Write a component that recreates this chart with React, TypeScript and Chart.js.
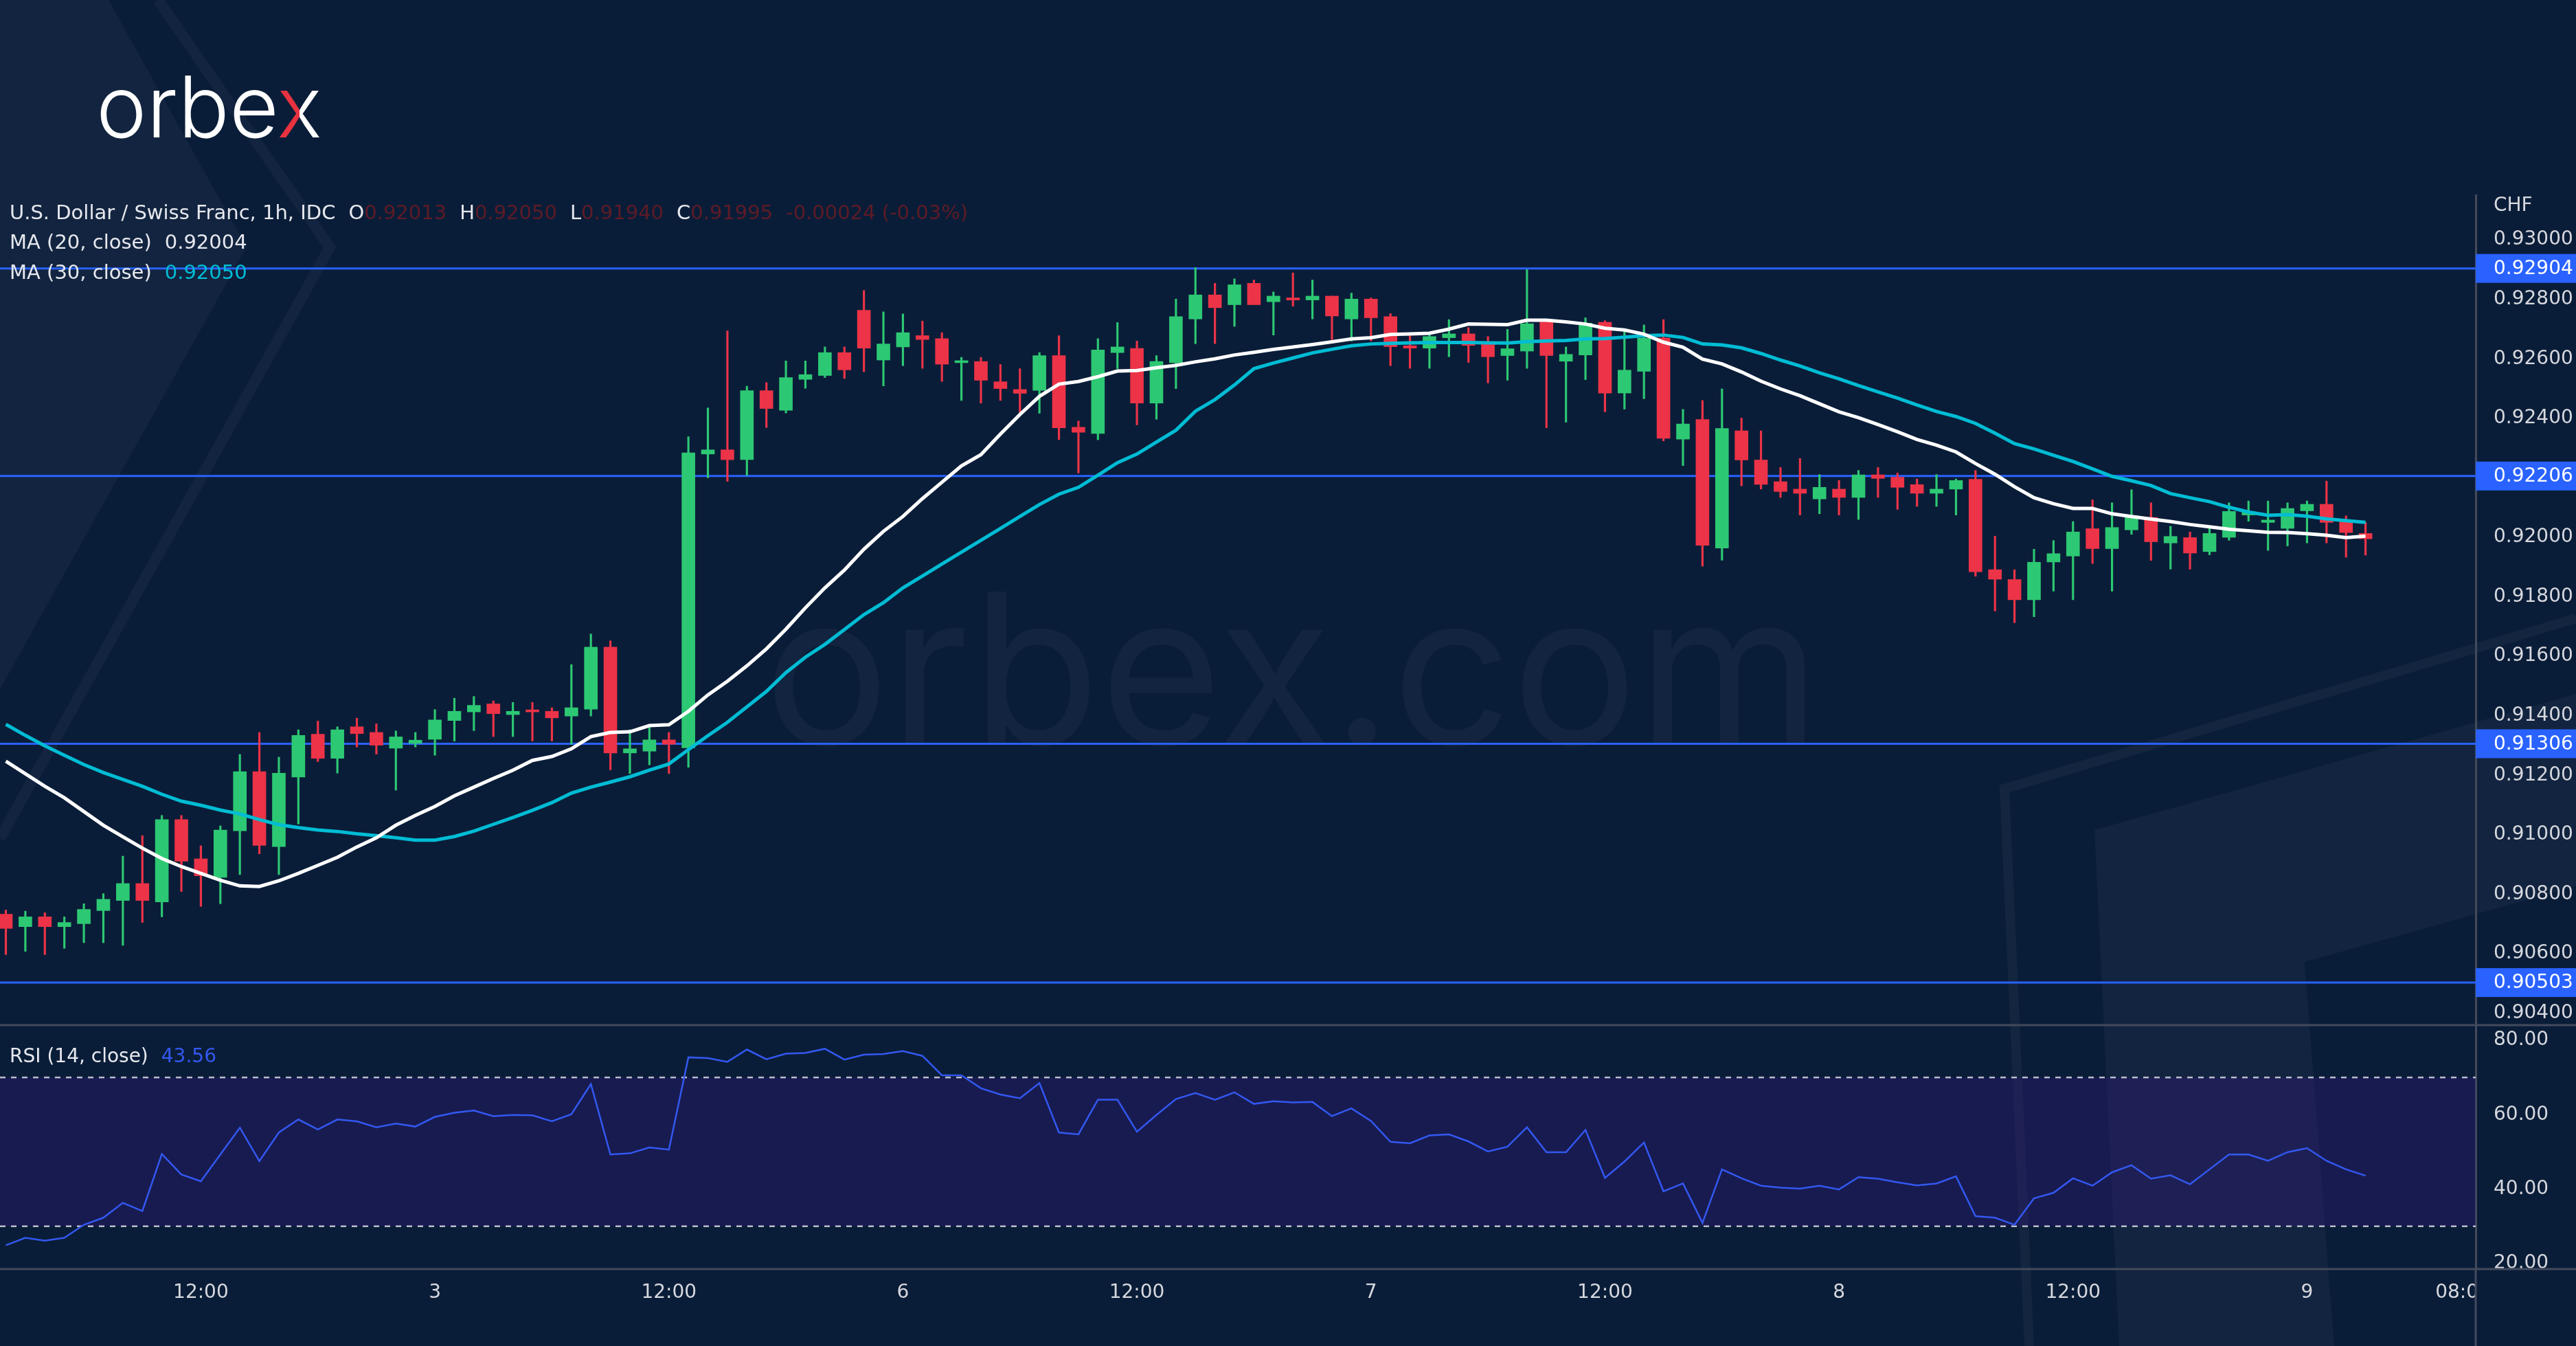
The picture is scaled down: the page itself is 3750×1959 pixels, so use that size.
import React, { useEffect, useRef } from 'react';
import { Chart, registerables } from 'chart.js';

Chart.register(...registerables);

// ---------------- data (USD/CHF 1h) ----------------
const opens = [
  0.90733, 0.90691, 0.90724, 0.90691, 0.90701, 0.90745, 0.90779, 0.90836, 0.90774, 0.91051,
  0.90919, 0.90857, 0.91013, 0.91212, 0.90960, 0.91194, 0.91338, 0.91257, 0.91363, 0.91344,
  0.91291, 0.91307, 0.91321, 0.91384, 0.91413, 0.91440, 0.91404, 0.91415, 0.91415, 0.91399,
  0.91422, 0.91631, 0.91275, 0.91281, 0.91319, 0.91292, 0.92280, 0.92294, 0.92261, 0.92493,
  0.92427, 0.92531, 0.92544, 0.92621, 0.92763, 0.92596, 0.92640, 0.92678, 0.92668, 0.92587,
  0.92591, 0.92523, 0.92497, 0.92494, 0.92611, 0.92370, 0.92349, 0.92621, 0.92635, 0.92451,
  0.92587, 0.92734, 0.92815, 0.92782, 0.92854, 0.92792, 0.92805, 0.92798, 0.92811, 0.92734,
  0.92801, 0.92742, 0.92644, 0.92636, 0.92671, 0.92684, 0.92655, 0.92611, 0.92626, 0.92727,
  0.92592, 0.92613, 0.92723, 0.92485, 0.92558, 0.92670, 0.92330, 0.92396, 0.91964, 0.92358,
  0.92260, 0.92187, 0.92162, 0.92129, 0.92162, 0.92134, 0.92210, 0.92202, 0.92177, 0.92148,
  0.92162, 0.92195, 0.91891, 0.91858, 0.91790, 0.91917, 0.91937, 0.92029, 0.91962, 0.92025,
  0.92067, 0.91981, 0.91999, 0.91952, 0.92000, 0.92075, 0.92050, 0.92030, 0.92089, 0.92111,
  0.92053, 0.92013,
];
const highs = [
  0.90747, 0.90743, 0.90738, 0.90724, 0.90768, 0.90802, 0.90928, 0.90997, 0.91065, 0.91065,
  0.90963, 0.91030, 0.91270, 0.91344, 0.91261, 0.91353, 0.91382, 0.91363, 0.91392, 0.91373,
  0.91349, 0.91344, 0.91421, 0.91459, 0.91465, 0.91450, 0.91445, 0.91445, 0.91427, 0.91572,
  0.91675, 0.91652, 0.91353, 0.91361, 0.91344, 0.92338, 0.92435, 0.92694, 0.92508, 0.92520,
  0.92593, 0.92593, 0.92640, 0.92640, 0.92830, 0.92758, 0.92751, 0.92727, 0.92688, 0.92605,
  0.92605, 0.92581, 0.92567, 0.92621, 0.92678, 0.92391, 0.92668, 0.92722, 0.92660, 0.92611,
  0.92801, 0.92907, 0.92854, 0.92869, 0.92865, 0.92825, 0.92889, 0.92865, 0.92811, 0.92821,
  0.92805, 0.92752, 0.92678, 0.92688, 0.92732, 0.92705, 0.92675, 0.92699, 0.92900, 0.92727,
  0.92640, 0.92738, 0.92728, 0.92693, 0.92714, 0.92732, 0.92430, 0.92460, 0.92499, 0.92401,
  0.92358, 0.92235, 0.92265, 0.92211, 0.92191, 0.92225, 0.92235, 0.92216, 0.92196, 0.92211,
  0.92196, 0.92225, 0.92004, 0.91891, 0.91960, 0.91989, 0.92053, 0.92126, 0.92116, 0.92160,
  0.92116, 0.92037, 0.92018, 0.92037, 0.92116, 0.92122, 0.92122, 0.92116, 0.92122, 0.92189,
  0.92072, 0.92050,
];
const lows = [
  0.90597, 0.90608, 0.90597, 0.90618, 0.90637, 0.90637, 0.90628, 0.90705, 0.90724, 0.90809,
  0.90759, 0.90768, 0.90866, 0.90936, 0.90866, 0.91036, 0.91246, 0.91207, 0.91295, 0.91271,
  0.91150, 0.91295, 0.91267, 0.91315, 0.91350, 0.91330, 0.91330, 0.91315, 0.91315, 0.91304,
  0.91399, 0.91218, 0.91206, 0.91235, 0.91206, 0.91227, 0.92200, 0.92188, 0.92208, 0.92369,
  0.92418, 0.92501, 0.92537, 0.92534, 0.92557, 0.92509, 0.92577, 0.92568, 0.92524, 0.92460,
  0.92451, 0.92460, 0.92417, 0.92417, 0.92328, 0.92216, 0.92328, 0.92567, 0.92378, 0.92397,
  0.92500, 0.92651, 0.92651, 0.92709, 0.92782, 0.92680, 0.92777, 0.92734, 0.92665, 0.92660,
  0.92660, 0.92577, 0.92568, 0.92568, 0.92607, 0.92588, 0.92519, 0.92528, 0.92568, 0.92368,
  0.92387, 0.92530, 0.92422, 0.92431, 0.92466, 0.92324, 0.92241, 0.91903, 0.91923, 0.92173,
  0.92162, 0.92134, 0.92075, 0.92079, 0.92075, 0.92060, 0.92134, 0.92094, 0.92104, 0.92104,
  0.92075, 0.91869, 0.91752, 0.91713, 0.91733, 0.91819, 0.91790, 0.91912, 0.91819, 0.92010,
  0.91922, 0.91893, 0.91893, 0.91941, 0.91990, 0.92054, 0.91956, 0.91971, 0.91981, 0.91981,
  0.91933, 0.91940,
];
const closes = [
  0.90685, 0.90724, 0.90691, 0.90705, 0.90749, 0.90783, 0.90836, 0.90779, 0.91051, 0.90911,
  0.90862, 0.91016, 0.91212, 0.90964, 0.91207, 0.91334, 0.91257, 0.91353, 0.91340, 0.91301,
  0.91329, 0.91318, 0.91386, 0.91415, 0.91435, 0.91407, 0.91415, 0.91413, 0.91393, 0.91427,
  0.91631, 0.91275, 0.91289, 0.91319, 0.91304, 0.92284, 0.92294, 0.92261, 0.92493, 0.92433,
  0.92537, 0.92547, 0.92621, 0.92563, 0.92636, 0.92650, 0.92688, 0.92665, 0.92582, 0.92592,
  0.92528, 0.92500, 0.92484, 0.92611, 0.92368, 0.92353, 0.92630, 0.92640, 0.92451, 0.92591,
  0.92742, 0.92815, 0.92772, 0.92849, 0.92782, 0.92811, 0.92798, 0.92811, 0.92744, 0.92801,
  0.92738, 0.92641, 0.92636, 0.92675, 0.92684, 0.92645, 0.92607, 0.92634, 0.92718, 0.92611,
  0.92615, 0.92720, 0.92485, 0.92562, 0.92670, 0.92333, 0.92381, 0.91973, 0.92366, 0.92260,
  0.92178, 0.92154, 0.92148, 0.92168, 0.92134, 0.92210, 0.92198, 0.92168, 0.92148, 0.92162,
  0.92191, 0.91884, 0.91859, 0.91790, 0.91916, 0.91945, 0.92018, 0.91962, 0.92033, 0.92072,
  0.91985, 0.92003, 0.91947, 0.92013, 0.92087, 0.92087, 0.92058, 0.92097, 0.92111, 0.92050,
  0.92016, 0.91995,
];
const ma20 = [
  0.91247, 0.91205, 0.91163, 0.91124, 0.91078, 0.91032, 0.90993, 0.90955, 0.90920, 0.90893,
  0.90870, 0.90847, 0.90828, 0.90826, 0.90845, 0.90870, 0.90897, 0.90924, 0.90959, 0.90990,
  0.91032, 0.91065, 0.91095, 0.91131, 0.91160, 0.91189, 0.91217, 0.91250, 0.91263, 0.91289,
  0.91330, 0.91344, 0.91346, 0.91367, 0.91370, 0.91415, 0.91470, 0.91516, 0.91568, 0.91625,
  0.91691, 0.91763, 0.91830, 0.91890, 0.91960, 0.92020, 0.92070, 0.92130, 0.92185, 0.92240,
  0.92278, 0.92347, 0.92413, 0.92474, 0.92515, 0.92524, 0.92540, 0.92559, 0.92561, 0.92570,
  0.92578, 0.92590, 0.92600, 0.92613, 0.92622, 0.92632, 0.92640, 0.92648, 0.92657, 0.92667,
  0.92671, 0.92682, 0.92684, 0.92686, 0.92700, 0.92717, 0.92716, 0.92715, 0.92730, 0.92730,
  0.92724, 0.92717, 0.92703, 0.92697, 0.92683, 0.92656, 0.92639, 0.92599, 0.92583, 0.92556,
  0.92525, 0.92499, 0.92476, 0.92449, 0.92422, 0.92402, 0.92379, 0.92355, 0.92329, 0.92310,
  0.92287, 0.92248, 0.92212, 0.92170, 0.92133, 0.92113, 0.92097, 0.92097, 0.92079, 0.92070,
  0.92061, 0.92053, 0.92043, 0.92035, 0.92027, 0.92022, 0.92017, 0.92016, 0.92012, 0.92007,
  0.91999, 0.92004,
];
const ma30 = [
  0.91371, 0.91334, 0.91299, 0.91267, 0.91236, 0.91209, 0.91186, 0.91163, 0.91136, 0.91113,
  0.91099, 0.91083, 0.91070, 0.91051, 0.91034, 0.91024, 0.91016, 0.91011, 0.91003, 0.90997,
  0.90990, 0.90982, 0.90982, 0.90994, 0.91012, 0.91035, 0.91058, 0.91082, 0.91108, 0.91140,
  0.91160, 0.91177, 0.91195, 0.91217, 0.91238, 0.91286, 0.91333, 0.91378, 0.91430, 0.91482,
  0.91545, 0.91597, 0.91640, 0.91690, 0.91740, 0.91780, 0.91830, 0.91870, 0.91910, 0.91950,
  0.91990, 0.92030, 0.92070, 0.92110, 0.92145, 0.92168, 0.92209, 0.92251, 0.92280, 0.92320,
  0.92360, 0.92424, 0.92463, 0.92512, 0.92567, 0.92586, 0.92603, 0.92620, 0.92632, 0.92644,
  0.92650, 0.92652, 0.92654, 0.92655, 0.92655, 0.92655, 0.92654, 0.92653, 0.92658, 0.92660,
  0.92662, 0.92667, 0.92668, 0.92673, 0.92678, 0.92680, 0.92672, 0.92650, 0.92647, 0.92637,
  0.92618, 0.92596, 0.92576, 0.92553, 0.92533, 0.92510, 0.92489, 0.92468, 0.92445, 0.92423,
  0.92406, 0.92383, 0.92350, 0.92315, 0.92297, 0.92276, 0.92255, 0.92230, 0.92205, 0.92190,
  0.92174, 0.92147, 0.92133, 0.92120, 0.92101, 0.92085, 0.92074, 0.92076, 0.92071, 0.92062,
  0.92056, 0.92050,
];
const rsi14 = [
  24.9, 26.9, 26.1, 26.9, 30.4, 32.3, 36.3, 34.1, 49.4, 43.9,
  42.1, 49.3, 56.5, 47.5, 55.2, 58.7, 56.0, 58.7, 58.2, 56.6,
  57.6, 56.8, 59.4, 60.5, 61.1, 59.6, 59.9, 59.8, 58.2, 60.1,
  68.2, 49.3, 49.6, 51.2, 50.6, 75.4, 75.2, 74.2, 77.5, 74.9,
  76.4, 76.6, 77.7, 74.8, 76.1, 76.3, 77.1, 75.8, 70.6, 70.6,
  67.1, 65.4, 64.4, 68.5, 55.2, 54.7, 64.0, 64.0, 55.4, 59.9,
  64.2, 65.8, 64.0, 66.0, 62.9, 63.6, 63.3, 63.4, 59.6, 61.7,
  58.3, 52.7, 52.3, 54.4, 54.7, 52.8, 50.1, 51.4, 56.6, 49.9,
  49.9, 55.9, 43.0, 47.4, 52.5, 39.4, 41.5, 30.9, 45.3, 42.9,
  40.9, 40.4, 40.1, 40.9, 39.9, 43.2, 42.8, 41.8, 41.0, 41.5,
  43.4, 32.7, 32.3, 30.4, 37.5, 39.0, 42.9, 40.9, 44.5, 46.4,
  42.8, 43.7, 41.3, 45.3, 49.3, 49.3, 47.6, 49.9, 51.0, 47.6,
  45.3, 43.6,
];
const levels = [0.92904, 0.92206, 0.91306, 0.90503];
const priceTicks = [0.904, 0.906, 0.908, 0.91, 0.912, 0.914, 0.916, 0.918, 0.92, 0.922, 0.924, 0.926, 0.928, 0.93];
const rsiTicks = [20, 40, 60, 80];
const rsiBands = [70, 30];
const xTickIdx = [10, 22, 34, 46, 58, 70, 82, 94, 106, 118, 126];
const xTickLabels = ['12:00', '3', '12:00', '6', '12:00', '7', '12:00', '8', '12:00', '9', '08:00'];

// ---------------- style ----------------
const W = 3750;
const H = 1959;
const AXIS_W = 146;
const BG = '#0a1d38';
const GREEN = '#2dc873';
const RED = '#ec3347';
const LEVEL = '#2962ff';
const SEP = '#434a5c';
const TICK = '#d6d8de';
const RSI_BLUE = '#3358f0';
const FONT = "'DejaVu Sans', 'Verdana', sans-serif";
const X_MIN = -0.3;
const X_MAX = 126.65;
const P_MIN = 0.903599;
const P_MAX = 0.931504;
const R_MIN = 18.5;
const R_MAX = 84.06;

const mainDeco = {
  id: 'mainDeco',
  beforeDatasetsDraw(chart: any) {
    const { ctx, chartArea, scales } = chart;
    const { left, right, top, bottom } = chartArea;
    ctx.save();
    ctx.beginPath();
    ctx.rect(left, top, right - left, bottom - top);
    ctx.clip();
    ctx.font = "305px Inter, 'Noto Sans', sans-serif";
    ctx.fillStyle = 'rgba(255,255,255,0.035)';
    ctx.textBaseline = 'alphabetic';
    ctx.textAlign = 'left';
    ctx.fillText('orbex.com', 1112, 1083);
    ctx.strokeStyle = LEVEL;
    ctx.lineWidth = 3;
    levels.forEach((v) => {
      const py = scales.y.getPixelForValue(v);
      ctx.beginPath();
      ctx.moveTo(left, py);
      ctx.lineTo(right, py);
      ctx.stroke();
    });
    ctx.restore();
  },
  afterDraw(chart: any) {
    const { ctx, chartArea, scales } = chart;
    const { right, top } = chartArea;
    ctx.save();
    ctx.font = '28px ' + FONT;
    ctx.textBaseline = 'middle';
    ctx.textAlign = 'left';
    levels.forEach((v) => {
      const py = scales.y.getPixelForValue(v);
      ctx.fillStyle = LEVEL;
      ctx.fillRect(right, py - 21, W - right, 42);
      ctx.fillStyle = '#ffffff';
      ctx.fillText(v.toFixed(5), right + 26, py + 1);
    });
    ctx.fillStyle = TICK;
    ctx.fillText('CHF', right + 26, top + 16);
    ctx.restore();
  },
};

const rsiDeco = {
  id: 'rsiDeco',
  beforeDatasetsDraw(chart: any) {
    const { ctx, chartArea, scales } = chart;
    const { left, right } = chartArea;
    const y70 = scales.y.getPixelForValue(rsiBands[0]);
    const y30 = scales.y.getPixelForValue(rsiBands[1]);
    ctx.save();
    ctx.fillStyle = 'rgba(66,25,150,0.26)';
    ctx.fillRect(left, y70, right - left, y30 - y70);
    ctx.strokeStyle = 'rgba(205,205,222,0.9)';
    ctx.lineWidth = 2.5;
    ctx.setLineDash([8, 8]);
    [y70, y30].forEach((py) => {
      ctx.beginPath();
      ctx.moveTo(left, py);
      ctx.lineTo(right, py);
      ctx.stroke();
    });
    ctx.restore();
  },
  afterDraw(chart: any) {
    const { ctx, chartArea } = chart;
    const { right, top, bottom } = chartArea;
    const h = chart.height;
    ctx.save();
    ctx.fillStyle = BG;
    ctx.fillRect(right + 1, bottom + 1, W - right, h - bottom);
    ctx.strokeStyle = SEP;
    ctx.lineWidth = 3;
    ctx.beginPath();
    ctx.moveTo(0, top);
    ctx.lineTo(W, top);
    ctx.moveTo(0, bottom);
    ctx.lineTo(W, bottom);
    ctx.moveTo(right, bottom);
    ctx.lineTo(right, h);
    ctx.stroke();
    ctx.restore();
  },
};

function mainConfig(): any {
  const colors = closes.map((c, i) => (c >= opens[i] ? GREEN : RED));
  return {
    type: 'bar',
    data: {
      datasets: [
        {
          type: 'line',
          data: ma20.map((v, i) => ({ x: i, y: v })),
          borderColor: '#ffffff',
          borderWidth: 5,
          pointRadius: 0,
          order: 0,
        },
        {
          type: 'line',
          data: ma30.map((v, i) => ({ x: i, y: v })),
          borderColor: '#00bcd4',
          borderWidth: 5,
          pointRadius: 0,
          order: 1,
        },
        {
          type: 'bar',
          data: opens.map((o, i) => ({ x: i, y: [o, closes[i]] })),
          backgroundColor: colors,
          barThickness: 19,
          minBarLength: 3,
          grouped: false,
          order: 2,
        },
        {
          type: 'bar',
          data: lows.map((l, i) => ({ x: i, y: [l, highs[i]] })),
          backgroundColor: colors,
          barThickness: 2.5,
          grouped: false,
          order: 3,
        },
      ],
    },
    options: {
      responsive: false,
      animation: false,
      devicePixelRatio: 1,
      events: [],
      layout: { padding: { top: 284, bottom: 50, left: 0, right: 0 } },
      plugins: { legend: { display: false }, tooltip: { enabled: false } },
      scales: {
        x: { type: 'linear', min: X_MIN, max: X_MAX, display: false, offset: false },
        y: {
          position: 'right',
          min: P_MIN,
          max: P_MAX,
          afterFit: (s: any) => {
            s.width = AXIS_W;
          },
          afterBuildTicks: (s: any) => {
            s.ticks = priceTicks.map((v) => ({ value: v }));
          },
          ticks: {
            padding: 26,
            color: TICK,
            font: { size: 28, family: FONT },
            callback: (v: any) => Number(v).toFixed(5),
          },
          grid: { display: false, drawTicks: false },
          border: { display: true, color: SEP, width: 3 },
        },
      },
    },
    plugins: [mainDeco],
  };
}

function rsiConfig(): any {
  return {
    type: 'line',
    data: {
      datasets: [
        {
          data: rsi14.map((v, i) => ({ x: i, y: v })),
          borderColor: RSI_BLUE,
          borderWidth: 2.5,
          pointRadius: 0,
        },
      ],
    },
    options: {
      responsive: false,
      animation: false,
      devicePixelRatio: 1,
      events: [],
      layout: { padding: { top: 60, bottom: 0, left: 0, right: 0 } },
      plugins: { legend: { display: false }, tooltip: { enabled: false } },
      scales: {
        x: {
          type: 'linear',
          min: X_MIN,
          max: X_MAX,
          position: 'bottom',
          afterBuildTicks: (s: any) => {
            s.ticks = xTickIdx.map((v) => ({ value: v }));
          },
          afterFit: (s: any) => {
            s.height = 112;
          },
          ticks: {
            autoSkip: false,
            maxRotation: 0,
            minRotation: 0,
            padding: 18,
            color: TICK,
            font: { size: 28, family: FONT },
            callback: (_v: any, i: number) => xTickLabels[i],
          },
          grid: { display: false, drawTicks: false },
          border: { display: false },
        },
        y: {
          position: 'right',
          min: R_MIN,
          max: R_MAX,
          afterFit: (s: any) => {
            s.width = AXIS_W;
          },
          afterBuildTicks: (s: any) => {
            s.ticks = rsiTicks.map((v) => ({ value: v }));
          },
          ticks: {
            padding: 26,
            color: TICK,
            font: { size: 28, family: FONT },
            callback: (v: any) => Number(v).toFixed(2),
          },
          grid: { display: false, drawTicks: false },
          border: { display: true, color: SEP, width: 3 },
        },
      },
    },
    plugins: [rsiDeco],
  };
}

const legendVal = '#5e1b26';

export default function App() {
  const mainRef = useRef<HTMLCanvasElement>(null);
  const rsiRef = useRef<HTMLCanvasElement>(null);

  useEffect(() => {
    const m = new Chart(mainRef.current as HTMLCanvasElement, mainConfig());
    const r = new Chart(rsiRef.current as HTMLCanvasElement, rsiConfig());
    return () => {
      m.destroy();
      r.destroy();
    };
  }, []);

  const lineStyle: React.CSSProperties = {
    position: 'absolute',
    left: 14,
    fontFamily: FONT,
    fontSize: 29,
    lineHeight: '40px',
    whiteSpace: 'pre',
    color: '#e6e8ee',
  };
  const gap: React.CSSProperties = { marginLeft: 19 };

  return (
    <div
      style={{
        position: 'absolute',
        left: 0,
        top: 0,
        width: W,
        height: H,
        background: BG,
        overflow: 'hidden',
      }}
    >
      <svg width={W} height={H} style={{ position: 'absolute', left: 0, top: 0 }}>
        <polygon points="0,0 158,0 359,360 0,1003" fill="rgba(255,255,255,0.035)" />
        <polyline points="230,0 480,360 0,1220" fill="none" stroke="rgba(255,255,255,0.035)" strokeWidth={16} />
        <polygon
          points="3049,1208 3750,1010 3750,1290 3355,1400 3398,1959 3085,1959"
          fill="rgba(255,255,255,0.035)"
        />
        <polyline points="2954,1959 2918,1148 3750,900" fill="none" stroke="rgba(255,255,255,0.04)" strokeWidth={14} />
      </svg>

      <div
        style={{
          position: 'absolute',
          left: 140,
          top: 93,
          fontFamily: "Inter, 'Noto Sans', sans-serif",
          fontSize: 124,
          lineHeight: '124px',
          color: '#ffffff',
          fontWeight: 300,
        }}
      >
        orbe
        <span
          style={{
            background: 'linear-gradient(90deg, #e8323f 0%, #e8323f 50%, #ffffff 50%, #ffffff 100%)',
            WebkitBackgroundClip: 'text',
            backgroundClip: 'text',
            color: 'transparent',
          }}
        >
          x
        </span>
      </div>

      <canvas
        ref={mainRef}
        width={W}
        height={1542}
        style={{ position: 'absolute', left: 0, top: 0, width: W, height: 1542 }}
      />
      <canvas
        ref={rsiRef}
        width={W}
        height={527}
        style={{ position: 'absolute', left: 0, top: 1432, width: W, height: 527 }}
      />

      <div style={{ ...lineStyle, top: 289 }}>
        <span>U.S. Dollar / Swiss Franc, 1h, IDC</span>
        <span style={gap}>O</span>
        <span style={{ color: legendVal }}>0.92013</span>
        <span style={gap}>H</span>
        <span style={{ color: legendVal }}>0.92050</span>
        <span style={gap}>L</span>
        <span style={{ color: legendVal }}>0.91940</span>
        <span style={gap}>C</span>
        <span style={{ color: legendVal }}>0.91995</span>
        <span style={{ ...gap, color: legendVal }}>-0.00024 (-0.03%)</span>
      </div>
      <div style={{ ...lineStyle, top: 332 }}>
        <span>MA (20, close)</span>
        <span style={gap}>0.92004</span>
      </div>
      <div style={{ ...lineStyle, top: 376 }}>
        <span>MA (30, close)</span>
        <span style={{ ...gap, color: '#00bcd4' }}>0.92050</span>
      </div>
      <div style={{ ...lineStyle, top: 1517, fontSize: 28 }}>
        <span>RSI (14, close)</span>
        <span style={{ ...gap, color: RSI_BLUE }}>43.56</span>
      </div>
    </div>
  );
}
